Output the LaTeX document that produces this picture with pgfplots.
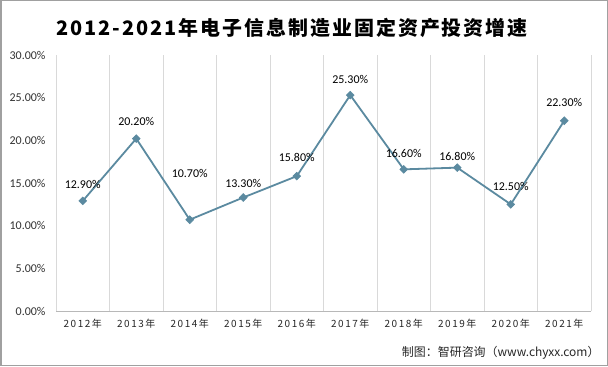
\documentclass[border=0pt]{standalone}
\usepackage{pgfplots}
\usepackage{pgfplotstable}
\pgfplotsset{compat=1.18}
\usepackage{fontspec}
\setmainfont{Carlito}
\newfontfamily\cjk{Noto Sans CJK SC}
\newfontfamily\cjkx[LetterSpace=15]{Noto Sans CJK SC}
\newfontfamily\cjkt[LetterSpace=10]{Noto Sans CJK SC}
\definecolor{linec}{RGB}{91,138,160}
\definecolor{gridc}{RGB}{217,217,217}
\definecolor{borderc}{RGB}{160,160,160}
\pgfplotstableread{
x y sh
0 12.9 16.5
1 20.2 17
2 10.7 46
3 13.3 14
4 15.8 19
5 25.3 16
6 16.6 16
7 16.8 11
8 12.5 18
9 22.3 18
}\datatable
\begin{document}
\begin{tikzpicture}[x=1bp,y=1bp]
\fill[white] (0,0) rectangle (608,366);
\draw[borderc, line width=1.5bp] (0.75,0.75) rectangle (607.25,365.25);
\useasboundingbox (0,0) rectangle (608,366);
\node[font=\cjkt\bfseries\fontsize{20}{24}\selectfont] at (292,338) {2012-2021年电子信息制造业固定资产投资增速};
\node[font=\cjk\fontsize{12}{14}\selectfont, anchor=east, text=black!85] at (603,13) {制图：智研咨询（www.chyxx.com）};
\begin{axis}[
  at={(56bp,55bp)}, anchor=south west,
  scale only axis, width=535bp, height=256bp,
  xmin=-0.5, xmax=9.5, ymin=0, ymax=30,
  axis line style={draw=none},
  clip=false,
  major tick length=0, minor tick length=0,
  ytick={0,5,...,30},
  yticklabels={0.00\%,5.00\%,10.00\%,15.00\%,20.00\%,25.00\%,30.00\%},
  yticklabel style={font=\fontsize{12}{14}\selectfont, text=black!80, xshift=-7bp},
  xtick={0,...,9},
  xticklabels={2012年,2013年,2014年,2015年,2016年,2017年,2018年,2019年,2020年,2021年},
  xticklabel style={font=\cjkx\fontsize{10}{12}\selectfont, text=black!85, yshift=-5bp},
  minor xtick={-0.5,0.5,...,9.5},
  xminorgrids=true,
  minor grid style={gridc, line width=0.8bp},
]
\draw[gridc!85!black, line width=0.8bp] (axis cs:-0.5,0) -- (axis cs:9.5,0);
\addplot[linec, line width=1.8bp, mark=square*, mark size=2.8bp,
  mark options={fill=linec, draw=linec, line width=0.5bp, rotate=45},
  point meta=\thisrow{y},
  visualization depends on={\thisrow{sh}\as\sh},
  nodes near coords={\pgfmathprintnumber[fixed,fixed zerofill,precision=2,assume math mode=true]{\pgfplotspointmeta}\%},
  every node near coord/.append style={anchor=center, yshift=\sh, font=\fontsize{12}{14}\selectfont, text=black}]
  table[x=x,y=y] {\datatable};
\end{axis}
\end{tikzpicture}
\end{document}
